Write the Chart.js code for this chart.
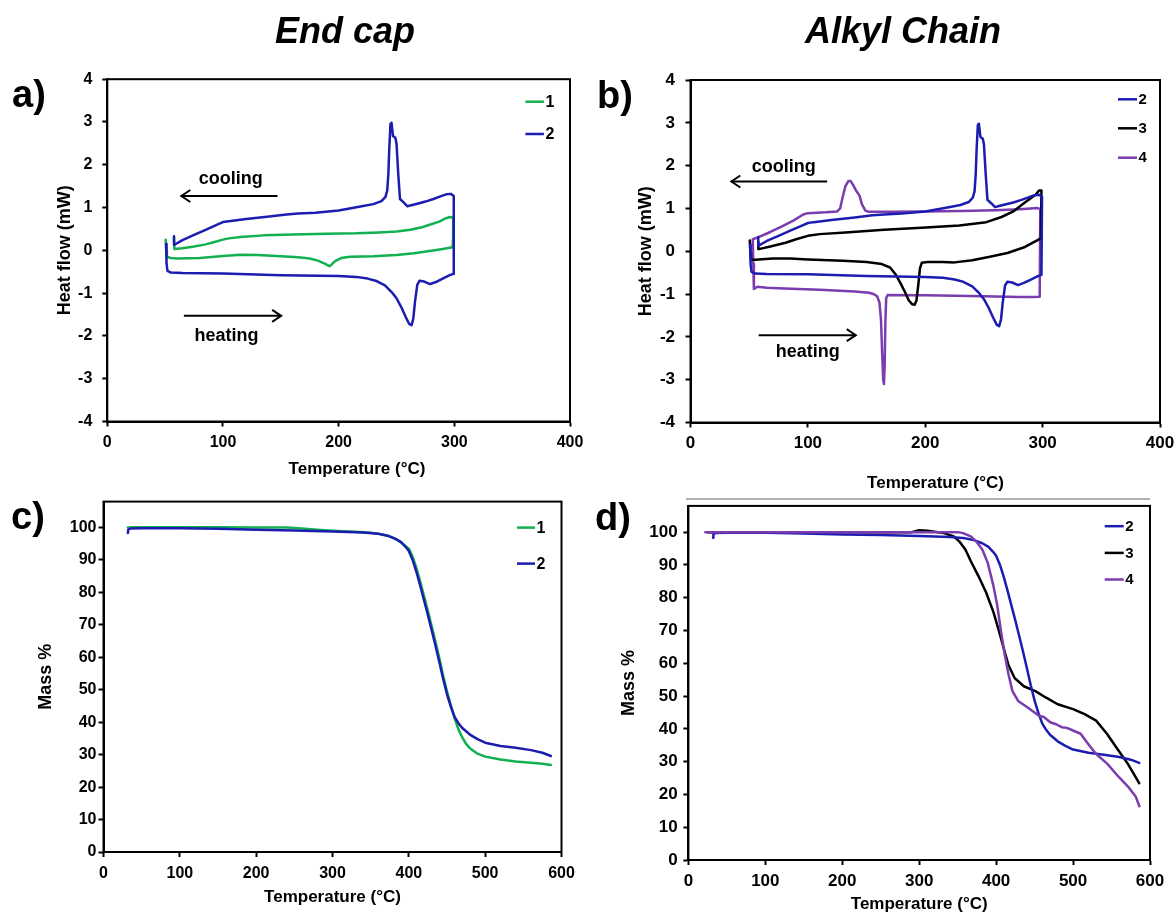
<!DOCTYPE html>
<html><head><meta charset="utf-8"><title>DSC and TGA</title>
<script src="https://cdn.jsdelivr.net/npm/chart.js@4.4.1/dist/chart.umd.min.js"></script>
<style>
html,body{margin:0;padding:0;background:#fff;}
body{width:1176px;height:915px;position:relative;overflow:hidden;}
canvas{position:absolute;}
#gl{position:absolute;left:686px;top:498px;width:464px;height:2px;background:#b0b0b0;}
</style></head><body>
<canvas id="ca" width="600" height="495" style="left:0;top:0"></canvas>
<canvas id="cb" width="611" height="510" style="left:585px;top:0"></canvas>
<div id="gl"></div>
<canvas id="cc" width="585" height="425" style="left:0;top:490px"></canvas>
<canvas id="cd" width="591" height="425" style="left:585px;top:490px"></canvas>
<script>
// ---------- DATA ----------
// DSC, compound 1 (heating 50->300, then cooling 300->57)
const dsc1Temp = [50.5,51,51.5,55,60,80,100,115,130,150,165,175,182,188,192,194,197,202,210,230,250,265,280,290,298.5,299,299,296,292,287,280,272,262,250,235,215,190,160,135,115,105,100,92,85,75,65,58,57.6];
const dsc1Flow = [0.25,0.0,-0.15,-0.18,-0.19,-0.18,-0.13,-0.1,-0.11,-0.14,-0.16,-0.19,-0.24,-0.31,-0.37,-0.33,-0.25,-0.18,-0.15,-0.14,-0.11,-0.07,-0.01,0.03,0.07,0.3,0.76,0.78,0.74,0.67,0.61,0.54,0.48,0.44,0.42,0.40,0.39,0.37,0.35,0.31,0.28,0.25,0.19,0.14,0.09,0.05,0.03,0.3];
// DSC, compound 2
const dsc2Temp = [50.8,51.2,52,55,65,100,150,200,215,225,232,240,246,250,254,258,261,263,264.5,266,268,270,274,279,284,290,296,299,299.5,297,293,288,282,275,268,262,259.5,257,255,253,251.5,250,249,247,245.7,244.8,243.8,243,242,240.5,237,230,220,200,180,165,155,140,120,105,100,95,85,75,65,58,57.7];
const dsc2Flow = [0.15,-0.3,-0.48,-0.52,-0.53,-0.54,-0.58,-0.6,-0.62,-0.66,-0.71,-0.82,-0.98,-1.12,-1.32,-1.56,-1.72,-1.75,-1.6,-1.2,-0.8,-0.71,-0.73,-0.79,-0.74,-0.66,-0.58,-0.55,1.27,1.32,1.31,1.26,1.2,1.14,1.09,1.05,1.03,1.1,1.15,1.2,1.8,2.5,2.63,2.67,2.98,2.95,2.4,1.8,1.4,1.25,1.15,1.08,1.03,0.93,0.88,0.86,0.84,0.79,0.73,0.68,0.66,0.6,0.48,0.36,0.24,0.13,0.33];
// DSC, compound 3
const dsc3Temp = [50.5,51,51.5,55,70,85,100,130,150,163,170,175,179,183,186,189,191,192.5,194,195.5,197,202,215,225,240,255,270,285,298.5,299,297,294,284,275,265,252,229,197,165,132,110,100,90,81,68,58.2,57.8];
const dsc3Flow = [0.25,-0.05,-0.2,-0.2,-0.17,-0.17,-0.19,-0.22,-0.25,-0.3,-0.38,-0.55,-0.75,-0.97,-1.15,-1.24,-1.25,-1.15,-0.8,-0.4,-0.27,-0.25,-0.25,-0.26,-0.21,-0.13,-0.04,0.1,0.3,1.42,1.42,1.32,1.12,0.93,0.8,0.68,0.6,0.55,0.5,0.44,0.4,0.36,0.28,0.2,0.11,0.05,0.22];
// DSC, compound 4
const dsc4Temp = [53,53.5,54,57,65,80,110,140,152,156,159,161,162.3,163.3,164.2,164.8,165.4,166,166.7,168,200,250,280,292,297.5,298,295,290,280,260,230,200,170,152,149,146,144,141,138.5,136.5,134.5,132,129.5,127.5,125,115,100,96,88,78,68,58,53];
const dsc4Flow = [0.28,-0.3,-0.88,-0.83,-0.85,-0.87,-0.9,-0.94,-0.97,-1.0,-1.05,-1.2,-1.6,-2.4,-3.0,-3.1,-2.7,-1.7,-1.1,-1.02,-1.03,-1.05,-1.07,-1.07,-1.06,0.99,1.01,1.0,0.98,0.96,0.94,0.93,0.92,0.92,0.95,1.1,1.3,1.42,1.55,1.64,1.64,1.52,1.25,1.0,0.93,0.91,0.89,0.86,0.72,0.58,0.45,0.33,0.28];

// TGA
const tga1Temp = [32,40,60,100,150,200,240,260,280,300,330,350,365,375,385,393,400,405,410,415,420,425,430,435,440,445,450,455,460,465,470,475,480,490,500,520,540,560,575,586];
const tga1Mass = [100,100.1,100.1,100.1,100.1,100,100,99.7,99.3,99,98.7,98.4,97.9,97.3,96.2,94.8,93.5,91,87.5,83.3,78.8,74.3,69.5,64.7,59.7,54.3,49.5,45.2,41.2,37.8,35.3,33.3,32,30.3,29.4,28.5,27.9,27.5,27.2,26.8];
const tga2Temp = [32,32.5,35,50,100,150,200,250,300,340,360,372,382,390,396,400,405,410,415,420,425,430,435,440,445,450,455,460,465,470,480,490,500,520,540,560,575,586];
const tga2Mass = [98.3,99.4,99.7,99.8,99.8,99.6,99.3,99.1,98.8,98.5,98.1,97.5,96.6,95.5,94,92.8,90,86.3,82,77.5,73,68.3,63.5,58.5,53.3,48.6,44.8,41.6,39.7,38.2,36.2,34.8,33.7,32.7,32.1,31.4,30.6,29.6];
const tga3Temp = [25,100,200,290,300,310,318,332,345,352,360,367,377,387,396.5,404,411,416,424,436,451,465,480,500,515,530,544,559,571,581,586];
const tga3Mass = [100,100,100,100,100.6,100.4,100.2,99.7,98.7,97.2,94.7,91.2,86.6,81.6,75.6,69.6,63.6,59.5,55.5,53,51.5,49.5,47.5,46,44.5,42.5,38.5,33.4,29.4,25.4,23.4];
const tga4Temp = [22,100,200,300,350,357,367,374,382,389,396.5,401.5,406.4,411.3,416.2,421.2,428.6,441,455.7,462,470.4,478,485.2,492,500,509.8,519.7,529.6,544.3,559.1,571.4,581.3,586.2];
const tga4Mass = [100,100,100,100,100,99.7,98.7,97.2,94.7,90.7,83.6,77.6,69.6,62.5,56.5,51.5,48.5,46.5,44,43.6,42,41.4,40.5,40.3,39.5,38.5,35.4,32.4,29.4,25.4,22.4,19.4,16.4];

const dscTicksX = {min:0, max:400, step:100};
const dscTicksY = {min:-4, max:4, step:1};
const tgaTicksX = {min:0, max:600, step:100};
const tgaTicksY = {min:0, max:108, step:10, lastLabel:100};

// annotation text / arrows (data coordinates)
const annA = {notes:[{t:'cooling',x:106.7,y:1.67},{t:'heating',x:103.1,y:-2.0}],
              arrows:[{from:147.1,to:64.0,y:1.27},{from:66.2,to:150.3,y:-1.53}]};
const annB = {notes:[{t:'cooling',x:79.5,y:1.96},{t:'heating',x:99.9,y:-2.36}],
              arrows:[{from:116.4,to:34.8,y:1.63},{from:58.1,to:140.8,y:-1.96}]};

const C_GREEN = '#12b04f', C_BLUE = '#1c1cb0', C_BLACK = '#000000', C_PURPLE = '#7a3cae';
const FONT = '"Liberation Sans", Arial, Helvetica, sans-serif';

// ---------- HELPERS ----------
function pts(xs, ys){ return xs.map((x,i)=>({x:x, y:ys[i]})); }
function ds(label, xs, ys, color, order){
  return {label:label, data:pts(xs,ys), borderColor:color, backgroundColor:color, borderWidth:2.5,
          pointRadius:0, showLine:true, tension:0, fill:false, order:order,
          borderJoinStyle:'round', borderCapStyle:'round'};
}

const decor = {
  id:'decor',
  afterDraw(chart, args, o){
    const ctx = chart.ctx, ca = chart.chartArea, xs = chart.scales.x, ys = chart.scales.y;
    ctx.save();
    ctx.strokeStyle = '#000'; ctx.lineWidth = 2;
    ctx.strokeRect(ca.left, ca.top, ca.right - ca.left, ca.bottom - ca.top);
    // arrows
    (o.arrows || []).forEach(a => {
      const x1 = xs.getPixelForValue(a.from), x2 = xs.getPixelForValue(a.to), y = ys.getPixelForValue(a.y);
      const d = Math.sign(x2 - x1);
      ctx.beginPath(); ctx.moveTo(x1, y); ctx.lineTo(x2, y); ctx.stroke();
      ctx.beginPath(); ctx.moveTo(x2 - d*9, y - 6); ctx.lineTo(x2, y); ctx.lineTo(x2 - d*9, y + 6); ctx.stroke();
    });
    ctx.fillStyle = '#000';
    ctx.textAlign = 'center'; ctx.textBaseline = 'middle';
    ctx.font = 'bold 18px ' + FONT;
    (o.notes || []).forEach(n => ctx.fillText(n.t, xs.getPixelForValue(n.x), ys.getPixelForValue(n.y)));
    // legend
    if (o.legend){
      const L = o.legend;
      const sets = chart.data.datasets;
      L.order.forEach((idx, k) => {
        const d = sets[idx];
        const y = ca.top + L.dy[k];
        ctx.strokeStyle = d.borderColor; ctx.lineWidth = 2.5;
        ctx.beginPath(); ctx.moveTo(ca.right + L.dx1, y); ctx.lineTo(ca.right + L.dx2, y); ctx.stroke();
        ctx.fillStyle = '#000'; ctx.textAlign = 'left'; ctx.textBaseline = 'middle';
        ctx.font = 'bold ' + L.size + 'px ' + FONT;
        ctx.fillText(d.label, ca.right + L.dx2 + 1.5, y + 0.5);
      });
    }
    // free texts, page coordinates
    (o.texts || []).forEach(t => {
      ctx.fillStyle = '#000';
      ctx.textAlign = t.align || 'center';
      ctx.textBaseline = t.base || 'middle';
      ctx.font = (t.italic ? 'italic ' : '') + 'bold ' + t.size + 'px ' + FONT;
      ctx.fillText(t.t, t.x - o.ox, t.y - o.oy);
    });
    ctx.restore();
  }
};

function axis(r, o){
  const a = {
    type:'linear', min:r.min, max:r.max,
    ticks:{stepSize:r.step, color:'#000', font:{family:FONT, size:o.font, weight:'bold'}, padding:o.pad,
           maxRotation:0, autoSkip:false},
    grid:{display:true, drawOnChartArea:false, drawTicks:true, tickLength:5, tickWidth:2, tickColor:'#000'},
    border:{display:true, color:'#000', width:2},
    title:o.title ? {display:true, text:o.title, color:'#000', font:{family:FONT, size:o.tsize, weight:'bold'}, padding:o.tpad} : {display:false}
  };
  if (r.lastLabel !== undefined){
    a.afterBuildTicks = s => { s.ticks = s.ticks.filter(t => t.value <= r.lastLabel); };
  }
  return a;
}

function makeChart(id, c){
  const xa = axis(c.xr, c.x); xa.afterFit = s => { s.height = c.xH; };
  const ya = axis(c.yr, c.y); ya.afterFit = s => { s.width = c.yW; };
  return new Chart(document.getElementById(id), {
    type:'scatter',
    data:{datasets:c.datasets},
    options:{
      responsive:false, animation:false, events:[],
      layout:{padding:{left:0, top:c.padTop, right:c.padRight, bottom:0}},
      plugins:{legend:{display:false}, tooltip:{enabled:false},
               decor:{ox:c.ox, oy:c.oy, arrows:c.arrows, notes:c.notes, legend:c.legend, texts:c.texts}},
      scales:{x:xa, y:ya}
    },
    plugins:[decor]
  });
}

// ---------- PANELS ----------
makeChart('ca', {
  ox:0, oy:0, padTop:79.2, padRight:30, xH:73.5, yW:107.3,
  xr:dscTicksX, yr:dscTicksY,
  x:{font:16, pad:6.5}, y:{font:16, pad:10, title:'Heat flow (mW)', tsize:18, tpad:{top:54, bottom:0}},
  datasets:[ds('1', dsc1Temp, dsc1Flow, C_GREEN, 1), ds('2', dsc2Temp, dsc2Flow, C_BLUE, 0)],
  arrows:annA.arrows, notes:annA.notes,
  legend:{order:[0,1], dx1:-44.6, dx2:-26.1, dy:[22.5,54.8], size:16},
  texts:[{t:'End cap', x:345, y:43, size:36, italic:true, base:'alphabetic'},
         {t:'a)', x:12, y:107, size:38, align:'left', base:'alphabetic'},
         {t:'Temperature (°C)', x:357, y:469.3, size:17}]
});

makeChart('cb', {
  ox:585, oy:0, padTop:80, padRight:36, xH:87.5, yW:105.5,
  xr:dscTicksX, yr:dscTicksY,
  x:{font:17, pad:5.6}, y:{font:17, pad:10.5, title:'Heat flow (mW)', tsize:18, tpad:{top:50.7, bottom:0}},
  datasets:[ds('2', dsc2Temp, dsc2Flow, C_BLUE, 0), ds('3', dsc3Temp, dsc3Flow, C_BLACK, 1), ds('4', dsc4Temp, dsc4Flow, C_PURPLE, 2)],
  arrows:annB.arrows, notes:annB.notes,
  legend:{order:[0,1,2], dx1:-42, dx2:-23, dy:[19.3,48.3,77.7], size:15},
  texts:[{t:'Alkyl Chain', x:903, y:43, size:36, italic:true, base:'alphabetic'},
         {t:'b)', x:597, y:108, size:38, align:'left', base:'alphabetic'},
         {t:'Temperature (°C)', x:935.5, y:483.3, size:17}]
});

makeChart('cc', {
  ox:0, oy:490, padTop:7, padRight:23.5, xH:63, yW:103.5,
  xr:tgaTicksX, yr:tgaTicksY,
  x:{font:16, pad:7.4, title:'Temperature (°C)', tsize:17, tpad:{top:0, bottom:7.8}},
  y:{font:16, pad:2, title:'Mass %', tsize:18, tpad:{top:35.2, bottom:0}},
  datasets:[ds('1', tga1Temp, tga1Mass, C_GREEN, 1), ds('2', tga2Temp, tga2Mass, C_BLUE, 0)],
  legend:{order:[0,1], dx1:-44.5, dx2:-26.5, dy:[26,62], size:16},
  texts:[{t:'c)', x:11, y:529, size:38, align:'left', base:'alphabetic'}]
});

makeChart('cd', {
  ox:585, oy:490, padTop:10.7, padRight:26, xH:55, yW:103.4,
  xr:tgaTicksX, yr:tgaTicksY,
  x:{font:17, pad:6.5, title:'Temperature (°C)', tsize:17, tpad:{top:0, bottom:0}},
  y:{font:17, pad:5.7, title:'Mass %', tsize:18, tpad:{top:33.6, bottom:0}},
  datasets:[ds('2', tga2Temp, tga2Mass, C_BLUE, 1), ds('3', tga3Temp, tga3Mass, C_BLACK, 2), ds('4', tga4Temp, tga4Mass, C_PURPLE, 0)],
  legend:{order:[0,1,2], dx1:-45.3, dx2:-26.3, dy:[20.3,47,73.6], size:15},
  texts:[{t:'d)', x:595, y:530, size:38, align:'left', base:'alphabetic'}]
});
</script>
</body></html>
